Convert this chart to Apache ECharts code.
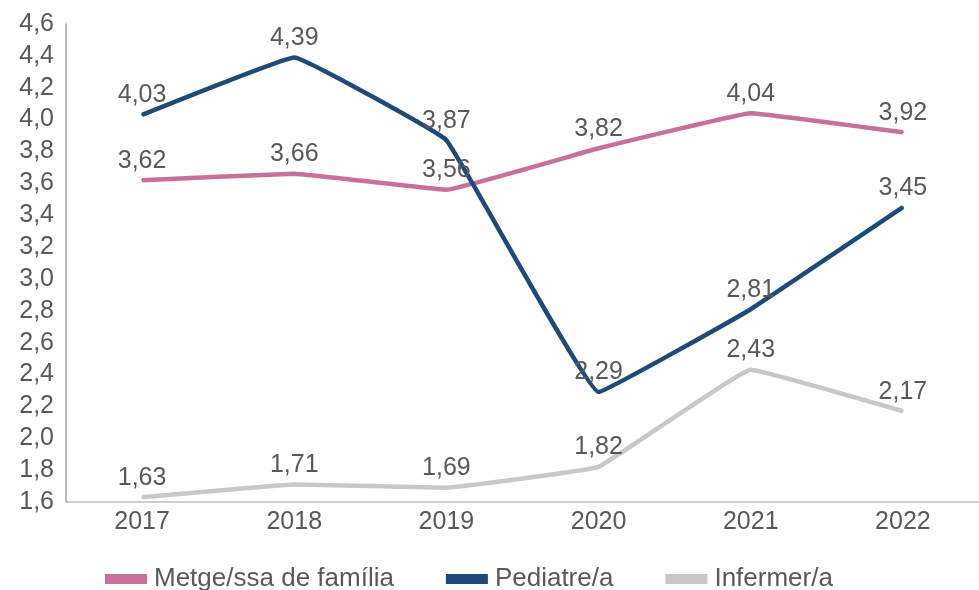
<!DOCTYPE html>
<html>
<head>
<meta charset="utf-8">
<script src="https://cdn.jsdelivr.net/npm/echarts@6/dist/echarts.min.js"></script>
<style>html,body{margin:0;padding:0;background:#fff;}#c{width:979px;height:590px;}</style>
</head>
<body>
<div id="c"></div>
<script>
const years = ['2017', '2018', '2019', '2020', '2021', '2022'];
const metge = [3.62, 3.66, 3.56, 3.82, 4.04, 3.92];
const pediatre = [4.03, 4.39, 3.87, 2.29, 2.81, 3.45];
const infermer = [1.63, 1.71, 1.69, 1.82, 2.43, 2.17];
const seriesNames = ['Metge/ssa de família', 'Pediatre/a', 'Infermer/a'];
const colors = ['#c8709a', '#1d4a78', '#c8c8c8'];

const font = 'Liberation Sans, Arial, sans-serif';
const txt = '#595959';
function fmt(v) { return v.toFixed(2).replace('.', ','); }
function mk(name, data, color) {
  return {
    name: name, type: 'line', data: data, smooth: 0.06,
    symbol: 'circle', symbolSize: 2, showSymbol: true,
    lineStyle: { width: 4.5, color: color }, itemStyle: { color: color },
    label: { show: true, position: 'top', distance: 6, fontFamily: font, fontSize: 25, color: txt,
      formatter: p => fmt(p.value) },
    labelLayout: { hideOverlap: false }
  };
}
const chart = echarts.init(document.getElementById('c'));
chart.setOption({
  animation: false,
  grid: { left: 66, right: -11, top: 24, bottom: 88 },
  legend: {
    top: 561, left: 100, itemWidth: 42, itemHeight: 10, itemGap: 52,
    icon: 'rect',
    textStyle: { fontFamily: font, fontSize: 26, color: txt, padding: [0, 0, 0, 2] },
    data: seriesNames
  },
  xAxis: {
    type: 'category', data: years, boundaryGap: true,
    axisLine: { lineStyle: { color: '#bfbfbf', width: 1.5 } },
    axisTick: { show: false },
    axisLabel: { fontFamily: font, fontSize: 25, color: txt, margin: 8 }
  },
  yAxis: {
    type: 'value', min: 1.6, max: 4.6, interval: 0.2,
    axisLine: { show: true, lineStyle: { color: '#a6a6a6', width: 1.5 } },
    axisTick: { show: false },
    splitLine: { show: false },
    axisLabel: { fontFamily: font, fontSize: 25, color: txt, margin: 12,
      formatter: v => v.toFixed(1).replace('.', ',') }
  },
  series: [
    mk(seriesNames[0], metge, colors[0]),
    mk(seriesNames[1], pediatre, colors[1]),
    mk(seriesNames[2], infermer, colors[2])
  ]
});
</script>
</body>
</html>
